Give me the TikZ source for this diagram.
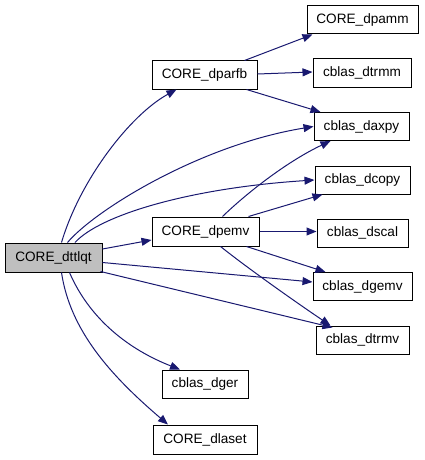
\documentclass[tikz,border=0pt]{standalone}
\usepackage{fontspec}
\setmainfont{Liberation Sans}
\usetikzlibrary{arrows.meta}
\definecolor{edgec}{HTML}{191970}
\definecolor{graybox}{HTML}{BFBFBF}
\begin{document}
\begin{tikzpicture}[x=1pt,y=-1pt,
  box/.style={draw=black,line width=1pt,fill=white,minimum height=28pt,inner sep=0pt,
    font=\fontsize{13.6}{15}\selectfont},
  edge/.style={draw=edgec,line width=1pt,-{Triangle[length=10pt,width=8pt]}}]
\useasboundingbox (0,0) rectangle (424,460);
\node[box,fill=graybox,minimum width=97pt,minimum height=29pt] (dttlqt) at (53.5,257.5) {CORE\_dttlqt};
\node[box,minimum width=105pt] (dparfb) at (204.5,75) {CORE\_dparfb};
\node[box,minimum width=111pt] (dpamm) at (362.5,20) {CORE\_dpamm};
\node[box,minimum width=98pt] (dtrmm) at (362,73) {cblas\_dtrmm};
\node[box,minimum width=95pt] (daxpy) at (361.5,126.5) {cblas\_daxpy};
\node[box,minimum width=95pt] (dcopy) at (362.5,180) {cblas\_dcopy};
\node[box,minimum width=107pt,minimum height=29pt] (dpemv) at (205.5,231.5) {CORE\_dpemv};
\node[box,minimum width=91pt] (dscal) at (362.5,233) {cblas\_dscal};
\node[box,minimum width=99pt] (dgemv) at (362.5,286.5) {cblas\_dgemv};
\node[box,minimum width=93pt] (dtrmv) at (362.5,340) {cblas\_dtrmv};
\node[box,minimum width=86pt] (dger) at (205,384) {cblas\_dger};
\node[box,minimum width=104pt,minimum height=29pt] (dlaset) at (205,439.5) {CORE\_dlaset};

% from CORE_dttlqt (yshift is in page direction, positive = up)
\draw[edge] ([xshift=8pt]dttlqt.north) .. controls (80,180) and (130,115) .. ([xshift=-28pt]dparfb.south);
\draw[edge] ([xshift=14pt]dttlqt.north) .. controls (95,210) and (200,145) .. (daxpy.west);
\draw[edge] ([xshift=21.5pt]dttlqt.north) .. controls (100,215) and (190,188) .. (dcopy.west);
\draw[edge] ([yshift=8.5pt]dttlqt.east) -- ([yshift=-8.5pt]dpemv.west);
\draw[edge] ([yshift=-5pt]dttlqt.east) -- ([yshift=4.5pt]dgemv.west);
\draw[edge] ([xshift=-2pt,yshift=1pt]dttlqt.south east) -- ([xshift=-30pt,yshift=-2pt]dtrmv.north);
\draw[edge] ([xshift=16pt]dttlqt.south) .. controls (90,320) and (130,350) .. ([xshift=-25pt]dger.north);
\draw[edge] ([xshift=8pt]dttlqt.south) .. controls (70,330) and (110,375) .. ([xshift=-37pt]dlaset.north);

% from CORE_dparfb
\draw[edge] ([xshift=40pt]dparfb.north) -- ([xshift=-50pt]dpamm.south);
\draw[edge] ([yshift=1pt]dparfb.east) -- ([yshift=1pt]dtrmm.west);
\draw[edge] ([xshift=42pt]dparfb.south) -- ([xshift=-41pt]daxpy.north);

% from CORE_dpemv
\draw[edge] ([xshift=17pt]dpemv.north) .. controls (250,190) and (290,160) .. ([xshift=-31pt]daxpy.south);
\draw[edge] ([xshift=43pt]dpemv.north) -- ([xshift=-40pt]dcopy.south);
\draw[edge] (dpemv.east) -- ([yshift=1.5pt]dscal.west);
\draw[edge] ([xshift=41pt]dpemv.south) -- ([xshift=-37pt]dgemv.north);
\draw[edge] ([xshift=15pt]dpemv.south) .. controls (250,270) and (300,305) .. ([xshift=-32pt]dtrmv.north);
\end{tikzpicture}
\end{document}
